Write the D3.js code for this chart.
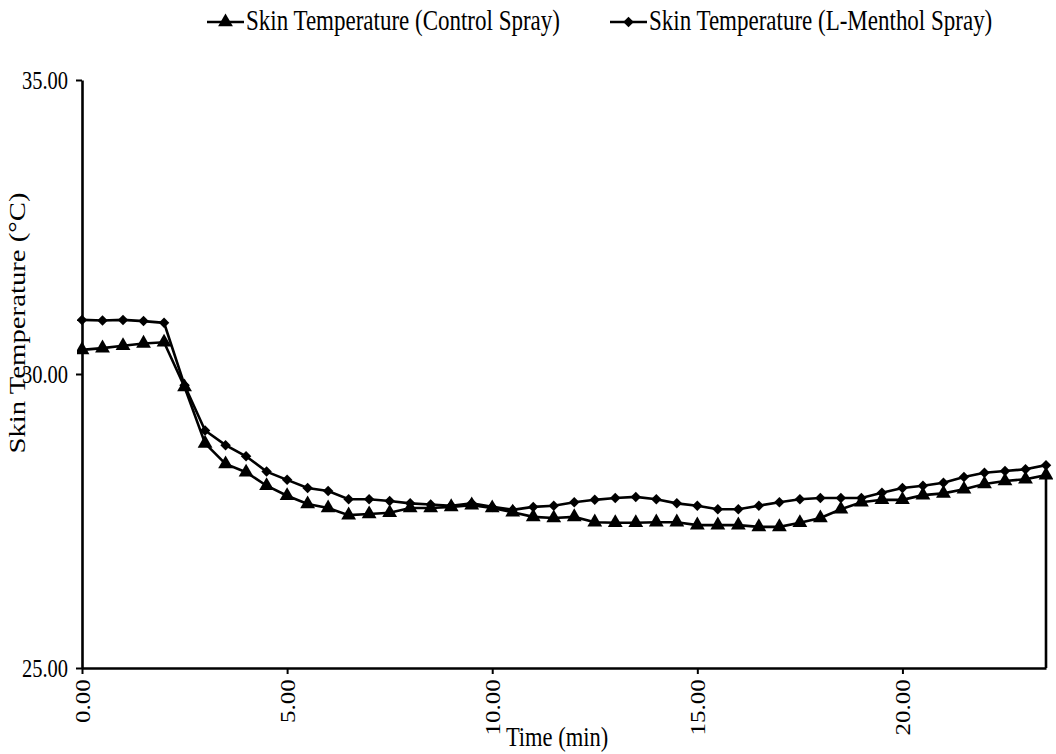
<!DOCTYPE html>
<html>
<head>
<meta charset="utf-8">
<script src="https://cdn.jsdelivr.net/npm/d3@7"></script>
<style>
  body { margin: 0; background: #fff; }
  svg { display: block; font-family: "Liberation Serif", "Times New Roman", serif; }
</style>
</head>
<body>
<div id="graf"></div>
<script>
// Datos (minutos y temperatura de piel en °C)
const tiempos = [0, 0.5, 1, 1.5, 2, 2.5, 3, 3.5, 4, 4.5, 5, 5.5, 6, 6.5, 7, 7.5, 8, 8.5, 9, 9.5,
  10, 10.5, 11, 11.5, 12, 12.5, 13, 13.5, 14, 14.5, 15, 15.5, 16, 16.5, 17, 17.5, 18, 18.5, 19, 19.5,
  20, 20.5, 21, 21.5, 22, 22.5, 23, 23.5];
const control = [30.41, 30.44, 30.48, 30.52, 30.54, 29.78, 28.82, 28.47, 28.33, 28.10, 27.93, 27.79,
  27.72, 27.60, 27.62, 27.64, 27.72, 27.72, 27.74, 27.77, 27.72, 27.65, 27.57, 27.55, 27.57, 27.48,
  27.47, 27.47, 27.48, 27.48, 27.43, 27.43, 27.43, 27.40, 27.40, 27.47, 27.55, 27.70, 27.82, 27.86,
  27.86, 27.94, 27.97, 28.04, 28.13, 28.18, 28.21, 28.28];
const mentol = [30.92, 30.91, 30.92, 30.90, 30.87, 29.81, 29.04, 28.79, 28.60, 28.34, 28.20, 28.06,
  28.01, 27.87, 27.87, 27.84, 27.80, 27.78, 27.76, 27.80, 27.74, 27.69, 27.74, 27.76, 27.82, 27.86,
  27.89, 27.91, 27.87, 27.80, 27.76, 27.70, 27.70, 27.76, 27.82, 27.87, 27.89, 27.89, 27.89, 27.98,
  28.06, 28.10, 28.15, 28.25, 28.32, 28.35, 28.38, 28.45];
// la serie control termina con una celda vacía (leída como 0)
const cierreControl = [23.5, 0];
const ticksX = [0, 5, 10, 15, 20];
const ticksY = [25, 30, 35];
const series = ["Skin Temperature (Control Spray)", "Skin Temperature (L-Menthol Spray)"];

// Dimensiones
const anchoTotal = 1056;
const altoTotal = 754;
const margins = { top: 80, right: 8, bottom: 86, left: 82 };
const ancho = anchoTotal - margins.left - margins.right;
const alto = altoTotal - margins.top - margins.bottom;
const estira = 1.25; // el texto original está estirado en vertical

const svg = d3.select("#graf")
  .append("svg")
  .attr("width", anchoTotal)
  .attr("height", altoTotal);

const g = svg.append("g")
  .attr("transform", `translate(${margins.left}, ${margins.top})`);

// Escalas
const x = d3.scaleLinear().domain([0, 23.5]).range([0, ancho - 2]);
const y = d3.scaleLinear().domain([25, 35]).range([alto, 0]);

svg.append("clipPath").attr("id", "area")
  .append("rect").attr("x", -5).attr("y", -5).attr("width", ancho + 10).attr("height", alto + 5);

// Ejes
const ejeY = g.append("g")
  .call(d3.axisLeft(y).tickValues(ticksY).tickFormat(d3.format(".2f")).tickSize(6).tickSizeOuter(0));
ejeY.selectAll("text")
  .attr("x", -14)
  .attr("transform", `scale(1, ${estira})`)
  .style("font-size", "20.5px")
  .style("fill", "#000");

const ejeX = g.append("g")
  .attr("transform", `translate(0, ${alto})`)
  .call(d3.axisBottom(x).tickValues(ticksX).tickFormat(d3.format(".2f")).tickSize(6).tickSizeOuter(0));
ejeX.selectAll("text")
  .attr("transform", `scale(1, ${estira}) rotate(-90)`)
  .attr("x", -9)
  .attr("y", 0)
  .attr("dy", "0.35em")
  .style("text-anchor", "end")
  .style("font-size", "20px")
  .style("fill", "#000");

[ejeX, ejeY].forEach((e) => {
  e.attr("font-family", null).attr("font-size", null);
  e.select(".domain").attr("stroke", "#000").attr("stroke-width", 2.6);
  e.selectAll(".tick line").attr("stroke", "#000").attr("stroke-width", 2);
});

// Lineas
const linea = d3.line().x((d) => x(d[0])).y((d) => y(d[1]));
const datosControl = tiempos.map((t, i) => [t, control[i]]);
const datosMentol = tiempos.map((t, i) => [t, mentol[i]]);

const capa = g.append("g").attr("clip-path", "url(#area)");

capa.append("path")
  .datum(datosControl.concat([cierreControl]))
  .attr("d", linea)
  .attr("fill", "none")
  .attr("stroke", "#000")
  .attr("stroke-width", 2.6);

capa.append("path")
  .datum(datosMentol)
  .attr("d", linea)
  .attr("fill", "none")
  .attr("stroke", "#000")
  .attr("stroke-width", 2.6);

// Marcadores
const triangulo = d3.symbol().type(d3.symbolTriangle).size(95);
const rombo = d3.symbol().type(d3.symbolSquare).size(55);

capa.selectAll(".tri")
  .data(datosControl)
  .enter()
  .append("path")
  .attr("class", "tri")
  .attr("d", triangulo)
  .attr("transform", (d) => `translate(${x(d[0])}, ${y(d[1])})`)
  .attr("fill", "#000");

capa.selectAll(".rombo")
  .data(datosMentol)
  .enter()
  .append("path")
  .attr("class", "rombo")
  .attr("d", rombo)
  .attr("transform", (d) => `translate(${x(d[0])}, ${y(d[1])}) rotate(45)`)
  .attr("fill", "#000");

// Titulos de ejes
svg.append("text")
  .attr("transform", `translate(${margins.left + ancho / 2 - 8}, 746) scale(1, ${estira})`)
  .attr("text-anchor", "middle")
  .style("font-size", "22.5px")
  .text("Time (min)");

svg.append("text")
  .attr("transform", `translate(25, 323) scale(1, ${estira}) rotate(-90)`)
  .attr("text-anchor", "middle")
  .style("font-size", "23px")
  .text("Skin Temperature (°C)");

// Leyenda
const leyenda = [
  { nombre: series[0], x0: 207, simbolo: triangulo, giro: 0 },
  { nombre: series[1], x0: 610, simbolo: rombo, giro: 45 },
];
const items = svg.selectAll(".ley")
  .data(leyenda)
  .enter()
  .append("g")
  .attr("class", "ley")
  .attr("transform", (d) => `translate(${d.x0}, 22)`);

items.append("line")
  .attr("x1", 0).attr("x2", 37)
  .attr("stroke", "#000").attr("stroke-width", 2.6);
items.append("path")
  .attr("d", (d) => d.simbolo())
  .attr("transform", (d) => `translate(18.5, 0) rotate(${d.giro})`)
  .attr("fill", "#000");
items.append("text")
  .attr("transform", `translate(39, 8) scale(1, ${estira})`)
  .style("font-size", "23px")
  .text((d) => d.nombre);
</script>
</body>
</html>
